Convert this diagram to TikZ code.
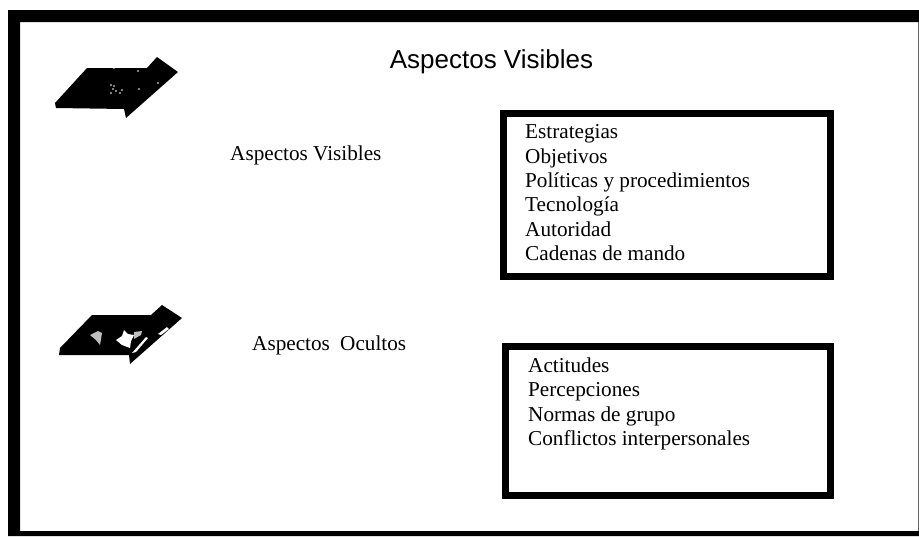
\documentclass[tikz,border=0pt]{standalone}
\usepackage{fontspec}
\setmainfont{Liberation Serif}
\newfontfamily\headfont{Liberation Sans}
\tikzset{
  px/.style={x=1pt,y=-1pt},
  framebox/.style={draw=black,line width=7pt,fill=white,line join=miter},
  listtext/.style={anchor=north west,inner sep=0pt,align=left,font=\fontsize{21.2}{24.4}\selectfont},
  labeltext/.style={anchor=base west,inner sep=0pt,font=\fontsize{21.2}{25}\selectfont},
  blob/.style={fill=black,draw=none},
  speck/.style={fill=white,draw=none}
}
\begin{document}
\begin{tikzpicture}[px]
\useasboundingbox (0,0) rectangle (919,536);
\fill[white] (0,0) rectangle (919,536);
% outer frame
\fill[black] (8,10) -- (919,10) -- (919,22) -- (20,22) -- (20,531) -- (919,531) -- (919,536) -- (8,536) -- cycle;
\fill[black!60] (918,22) rectangle (919,531);
% title
\node[anchor=base,inner sep=0pt,font=\headfont\fontsize{26}{30}\selectfont] (title) at (491.5,68) {Aspectos Visibles};
% upper icon
\fill[blob] (55,103) -- (87,68) -- (147,68) -- (157,57) -- (178,72) -- (126,118) -- (124,109) -- (56,108) -- cycle;
\foreach \p in {(111,85),(114,86),(113,89),(116,91),(120,93),(122,90),(111,93),(139,89),(158,83),(114,68),(138,71)}
  \fill[speck] \p circle (0.9);
% lower icon
\fill[blob] (60,348) -- (92,315) -- (151,315) -- (162,305) -- (182,318) -- (130,364) -- (129,355) -- (59,355) -- cycle;
\fill[speck] (116,340) -- (122,336) -- (124,330) -- (128,334) -- (134,335) -- (131,341) -- (130,348) -- (122,345) -- cycle;
\fill[black!25] (134,332) -- (142,331) -- (141,335) -- (134,339) -- cycle;
\fill[black!25] (90,335) -- (98,331) -- (102,333) -- (100,345) -- (96,340) -- cycle;
\fill[speck] (132,353) -- (146,337) -- (148,338) -- (136,352) -- cycle;
\fill[speck] (158,334) -- (167,327) -- (169,329) -- (161,335) -- cycle;
% side labels
\node[labeltext] (vis) at (230,160) {Aspectos Visibles};
\node[labeltext] (ocu) at (252,350) {Aspectos\hspace{5pt} Ocultos};
% boxes
\draw[framebox] (503.5,113) rectangle (830,276.5);
\node[listtext] (l1) at (525,124.5) {Estrategias\\Objetivos\\Políticas y procedimientos\\Tecnología\\Autoridad\\Cadenas de mando};
\draw[framebox] (505.5,346) rectangle (830,495);
\node[listtext] (l2) at (528,357.5) {Actitudes\\Percepciones\\Normas de grupo\\Conflictos interpersonales};
\end{tikzpicture}
\end{document}
